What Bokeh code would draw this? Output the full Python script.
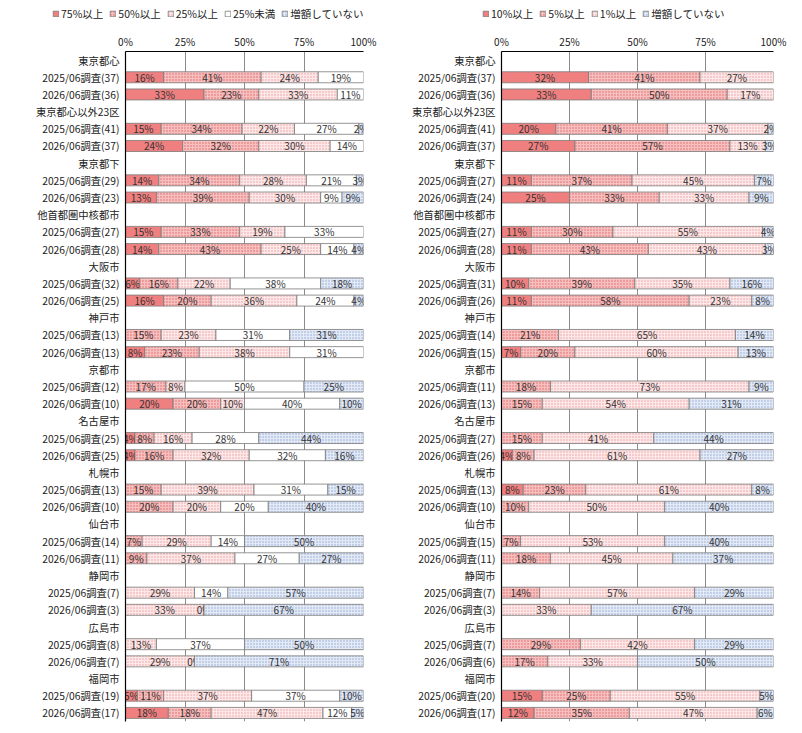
import numpy as np
from bokeh.plotting import figure
from bokeh.models import ColumnDataSource, Range1d, FixedTicker, Legend, LegendItem
from bokeh.layouts import row, column
from bokeh.embed import file_html
from bokeh.resources import INLINE
from bokeh.core.properties import value

FONT = "Noto Sans CJK JP"

groups = ["東京都心", "東京都心以外23区", "東京都下", "他首都圏中核都市", "大阪市", "神戸市",
          "京都市", "名古屋市", "札幌市", "仙台市", "静岡市", "広島市", "福岡市"]

# sample sizes
left_n_2025 = [37, 41, 29, 27, 32, 13, 12, 25, 13, 14, 7, 8, 19]
left_n_2026 = [36, 37, 23, 28, 25, 13, 10, 25, 10, 11, 3, 7, 17]
right_n_2025 = [37, 41, 27, 27, 31, 14, 11, 27, 13, 15, 7, 7, 20]
right_n_2026 = [36, 37, 24, 28, 26, 15, 13, 26, 10, 11, 3, 6, 17]

# left chart (per group: 2025, 2026); None = no segment
left_names = ["75%以上", "50%以上", "25%以上", "25%未満", "増額していない"]
L75 = [16, 33, 15, 24, 14, 13, 15, 14, 6, 16, None, 8, None, 20, 4, 4, None, None, None, None, None, None, None, None, 5, 18]
L50 = [41, 23, 34, 32, 34, 39, 33, 43, 16, 20, 15, 23, 17, 20, 8, 16, 15, 20, 7, 9, None, None, None, None, 11, 18]
L25 = [24, 33, 22, 30, 28, 30, 19, 25, 22, 36, 23, 38, 8, 10, 16, 32, 39, 20, 29, 37, 29, 33, 13, 29, 37, 47]
LU25 = [19, 11, 27, 14, 21, 9, 33, 14, 38, 24, 31, 31, 50, 40, 28, 32, 31, 20, 14, 27, 14, 0, 37, 0, 37, 12]
LNO = [None, None, 2, None, 3, 9, None, 4, 18, 4, 31, None, 25, 10, 44, 16, 15, 40, 50, 27, 57, 67, 50, 71, 10, 5]

# right chart
right_names = ["10%以上", "5%以上", "1%以上", "増額していない"]
R10 = [32, 33, 20, 27, 11, 25, 11, 11, 10, 11, None, 7, None, None, None, 4, 8, None, None, None, None, None, None, None, 15, 12]
R5 = [41, 50, 41, 57, 37, 33, 30, 43, 39, 58, 21, 20, 18, 15, 15, 8, 23, 10, 7, 18, 14, None, 29, 17, 25, 35]
R1 = [27, 17, 37, 13, 45, 33, 55, 43, 35, 23, 65, 60, 73, 54, 41, 61, 61, 50, 53, 45, 57, 33, 42, 33, 55, 47]
RNO = [None, None, 2, 3, 7, 9, 4, 3, 16, 8, 14, 13, 9, 31, 44, 27, 8, 40, 40, 37, 29, 67, 29, 50, 5, 6]

x_ticks = [0, 25, 50, 75, 100]

ST_SOLID = dict(fill_color="#F08080")
ST_MID = dict(fill_color="#F6C0C0", hatch_pattern="dot", hatch_color="#E06464", hatch_scale=3, hatch_weight=0.8)
ST_LIGHT = dict(fill_color="#FCE8E8", hatch_pattern="dot", hatch_color="#EE9C9C", hatch_scale=3, hatch_weight=0.7)
ST_WHITE = dict(fill_color="#FFFFFF")
ST_BLUE = dict(fill_color="#E3EAF6", hatch_pattern="dot", hatch_color="#8FA8D4", hatch_scale=3, hatch_weight=0.8)

FRAME_H = 670
LEG_H = 30
BAR_LINE = dict(line_color="#7a7a7a", line_width=0.8)


def row_labels(n25, n26):
    labels = []
    for g, a, b in zip(groups, n25, n26):
        labels += [g, f"2025/06調査({a})", f"2026/06調査({b})"]
    return labels


def bar_row(i):
    return (i // 2) * 3 + 1 + (i % 2)


def make_fig(labels, series, styles, fl, fw, fr):
    p = figure(frame_width=fw, frame_height=FRAME_H, min_border_left=fl, min_border_right=fr,
               min_border_top=51 - LEG_H, min_border_bottom=12,
               x_range=Range1d(0, 100), y_range=Range1d(38.5, -0.5),
               x_axis_location="above", output_backend="svg", toolbar_location=None)
    p.outline_line_color = None
    p.background_fill_color = "white"
    p.border_fill_color = "white"
    p.ygrid.visible = False
    p.xgrid.ticker = FixedTicker(ticks=x_ticks)
    p.xgrid.grid_line_color = "#8c8c8c"
    p.xgrid.grid_line_width = 1

    for ax in (p.xaxis, p.yaxis):
        ax.major_tick_line_color = None
        ax.minor_tick_line_color = None
        ax.major_tick_out = 0
        ax.major_tick_in = 0
        ax.minor_tick_out = 0
        ax.minor_tick_in = 0
        ax.axis_line_color = "black"
        ax.axis_line_width = 1.2
        ax.major_label_text_font = FONT
        ax.major_label_text_color = "#222222"

    p.xaxis.ticker = FixedTicker(ticks=x_ticks)
    p.xaxis.major_label_overrides = {t: f"{t}%" for t in x_ticks}
    p.xaxis.major_label_standoff = 3
    p.xaxis.major_label_text_font_size = "10px"

    p.yaxis.ticker = FixedTicker(ticks=list(range(len(labels))))
    p.yaxis.major_label_overrides = {i: lab for i, lab in enumerate(labels)}
    p.yaxis.major_label_standoff = 6
    p.yaxis.major_label_text_font_size = "10.3px"

    cum = np.zeros(26)
    for vals, st in zip(series, styles):
        v = np.array([0 if x is None else x for x in vals], dtype=float)
        idx = [i for i, x in enumerate(vals) if x is not None]
        src = ColumnDataSource(dict(
            y=[bar_row(i) for i in idx],
            left=[cum[i] for i in idx],
            right=[cum[i] + v[i] for i in idx],
        ))
        p.hbar(y="y", left="left", right="right", height=0.64, source=src, **BAR_LINE, **st)
        tsrc = ColumnDataSource(dict(
            x=[cum[i] + v[i] / 2 for i in idx],
            y=[bar_row(i) for i in idx],
            t=[f"{vals[i]}%" for i in idx],
        ))
        p.text(x="x", y="y", text="t", source=tsrc, text_align="center", text_baseline="middle",
               text_font=value(FONT), text_font_size="10px", text_color="#333333")
        cum = cum + v
    return p


def make_legend_fig(names, styles, width, x0):
    lp = figure(width=width, height=LEG_H, x_range=Range1d(0, 1), y_range=Range1d(0, 1),
                x_axis_type=None, y_axis_type=None, min_border=0,
                output_backend="svg", toolbar_location=None)
    lp.outline_line_color = None
    lp.grid.visible = False
    items = []
    for name, st in zip(names, styles):
        # legend-only swatch renderer, placed outside the visible range
        r = lp.hbar(y=[5], left=[5], right=[6], height=0.5, **BAR_LINE, **st)
        items.append(LegendItem(label=name, renderers=[r]))
    leg = Legend(items=items, orientation="horizontal", location=(x0, 9),
                 glyph_width=7, glyph_height=7, label_standoff=2, spacing=6,
                 padding=0, margin=0, border_line_color=None, background_fill_alpha=0,
                 label_text_font=FONT, label_text_font_size="10.5px", label_text_color="#222222",
                 label_height=12)
    lp.add_layout(leg, "center")
    return lp


left_labels = row_labels(left_n_2025, left_n_2026)
right_labels = row_labels(right_n_2025, right_n_2026)

left_styles = [ST_SOLID, ST_MID, ST_LIGHT, ST_WHITE, ST_BLUE]
right_styles = [ST_SOLID, ST_MID, ST_LIGHT, ST_BLUE]

p1 = make_fig(left_labels, [L75, L50, L25, LU25, LNO], left_styles, 125, 238, 37)
p2 = make_fig(right_labels, [R10, R5, R1, RNO], right_styles, 101, 272, 29)
l1 = make_legend_fig(left_names, left_styles, 400, 52)
l2 = make_legend_fig(right_names, right_styles, 402, 82)

layout = column(row(l1, l2), row(p1, p2))
open("out.html", "w").write(file_html(layout, INLINE))
